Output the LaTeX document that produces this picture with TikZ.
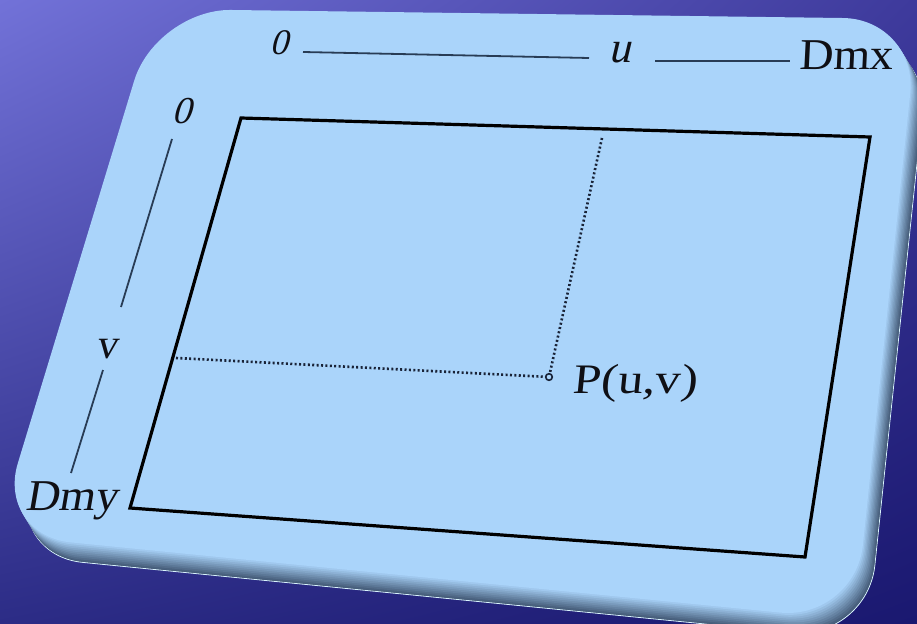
\documentclass[tikz,border=0pt]{standalone}
\usepackage{fontspec}
\setmainfont{Liberation Serif}
\usetikzlibrary{shadings}
\definecolor{bgTL}{RGB}{114,114,216}
\definecolor{bgTR}{RGB}{62,58,156}
\definecolor{bgBL}{RGB}{44,44,134}
\definecolor{bgBR}{RGB}{26,24,112}
\definecolor{panelcol}{RGB}{170,212,250}
\definecolor{bevdark}{RGB}{62,84,112}
\definecolor{axiscol}{RGB}{40,60,85}
\definecolor{dotcol}{RGB}{25,35,55}
\definecolor{txtcol}{RGB}{15,15,20}
\begin{document}
\begin{tikzpicture}[x=1pt,y=-1pt,
  axisline/.style={line width=1.8pt,color=axiscol},
  frameline/.style={line width=3.2pt,black,line join=miter},
  dotline/.style={line width=2.6pt,color=dotcol,dash pattern=on 2pt off 2.4pt},
  lab/.style={inner sep=0pt,text=txtcol,transform shape},
  panelshape/.style={rounded corners=75pt}]
\useasboundingbox (0,0) rectangle (917,623);
\shade[upper left=bgTL,upper right=bgTR,lower left=bgBL,lower right=bgBR] (0,0) rectangle (917,623);
% panel with soft bevel on bottom and right
\fill[bevdark, draw=white!85!cyan, line width=0.8pt, panelshape, shift={(12,20)}]
  (156,9) -- (918,19) -- (855,620) -- (-4,535) -- cycle;
\foreach \k in {10,...,1} {
  \pgfmathtruncatemacro{\pct}{100-9*\k}
  \fill[panelcol!\pct!bevdark, panelshape, shift={(1.15*\k,1.9*\k)}]
    (156,9) -- (918,19) -- (855,620) -- (-4,535) -- cycle;
}
\fill[panelcol, panelshape]
  (156,9) -- (918,19) -- (855,620) -- (-4,535) -- cycle;
% frame
\coordinate (A) at (241,118);
\coordinate (B) at (870,137);
\coordinate (C) at (805,557);
\coordinate (D) at (130,508);
\draw[frameline] (A) -- (B) -- (C) -- (D) -- cycle;
% point P and dotted projections
\coordinate (P) at (549,377);
\coordinate (Pu) at (602,138);
\coordinate (Pv) at (176,358);
\draw[dotline] (Pu) -- (P);
\draw[dotline] (Pv) -- (P);
\draw[line width=1.6pt, dotcol, fill=panelcol] (P) circle (3.3pt);
% labels (slightly slanted to follow the perspective)
\begin{scope}[shift={(280,55)}, xslant=0.1]
  \node[lab, font=\itshape\fontsize{36}{36}\selectfont, anchor=base] (zt) at (0,0) {0};
\end{scope}
\begin{scope}[shift={(621,63)}, xslant=0.06]
  \node[lab, font=\itshape\fontsize{44}{44}\selectfont, anchor=base] (ut) at (0,0) {u};
\end{scope}
\begin{scope}[shift={(799,70)}, xslant=0.05]
  \node[lab, font=\fontsize{44}{44}\selectfont, anchor=base west] (dmx) at (0,0) {\scalebox{1.07}[1]{Dmx}};
\end{scope}
\begin{scope}[shift={(183,123)}, xslant=0.12]
  \node[lab, font=\itshape\fontsize{38}{38}\selectfont, anchor=base] (zl) at (0,0) {0};
\end{scope}
\begin{scope}[shift={(107,358)}, xslant=0.15]
  \node[lab, font=\fontsize{42}{42}\selectfont, anchor=base] (vl) at (0,0) {v};
\end{scope}
\begin{scope}[shift={(25,510)}, xslant=0.17]
  \node[lab, font=\fontsize{44}{44}\selectfont, anchor=base west] (dmy) at (0,0) {\scalebox{1.05}[1]{Dmy}};
\end{scope}
\begin{scope}[shift={(572,393)}, xslant=0.1]
  \node[lab, font=\fontsize{42}{42}\selectfont, anchor=base west] (pl) at (0,0) {\scalebox{1.2}[1]{P(u,v)}};
\end{scope}
% axis lines
\coordinate (t1a) at (303,52); \coordinate (t1b) at (589,58);
\coordinate (t2a) at (655,61); \coordinate (t2b) at (790,61);
\coordinate (l1a) at (172,139); \coordinate (l1b) at (121,307);
\coordinate (l2a) at (103,370); \coordinate (l2b) at (71,473);
\draw[axisline] (t1a) -- (t1b);
\draw[axisline] (t2a) -- (t2b);
\draw[axisline] (l1a) -- (l1b);
\draw[axisline] (l2a) -- (l2b);
\end{tikzpicture}
\end{document}
